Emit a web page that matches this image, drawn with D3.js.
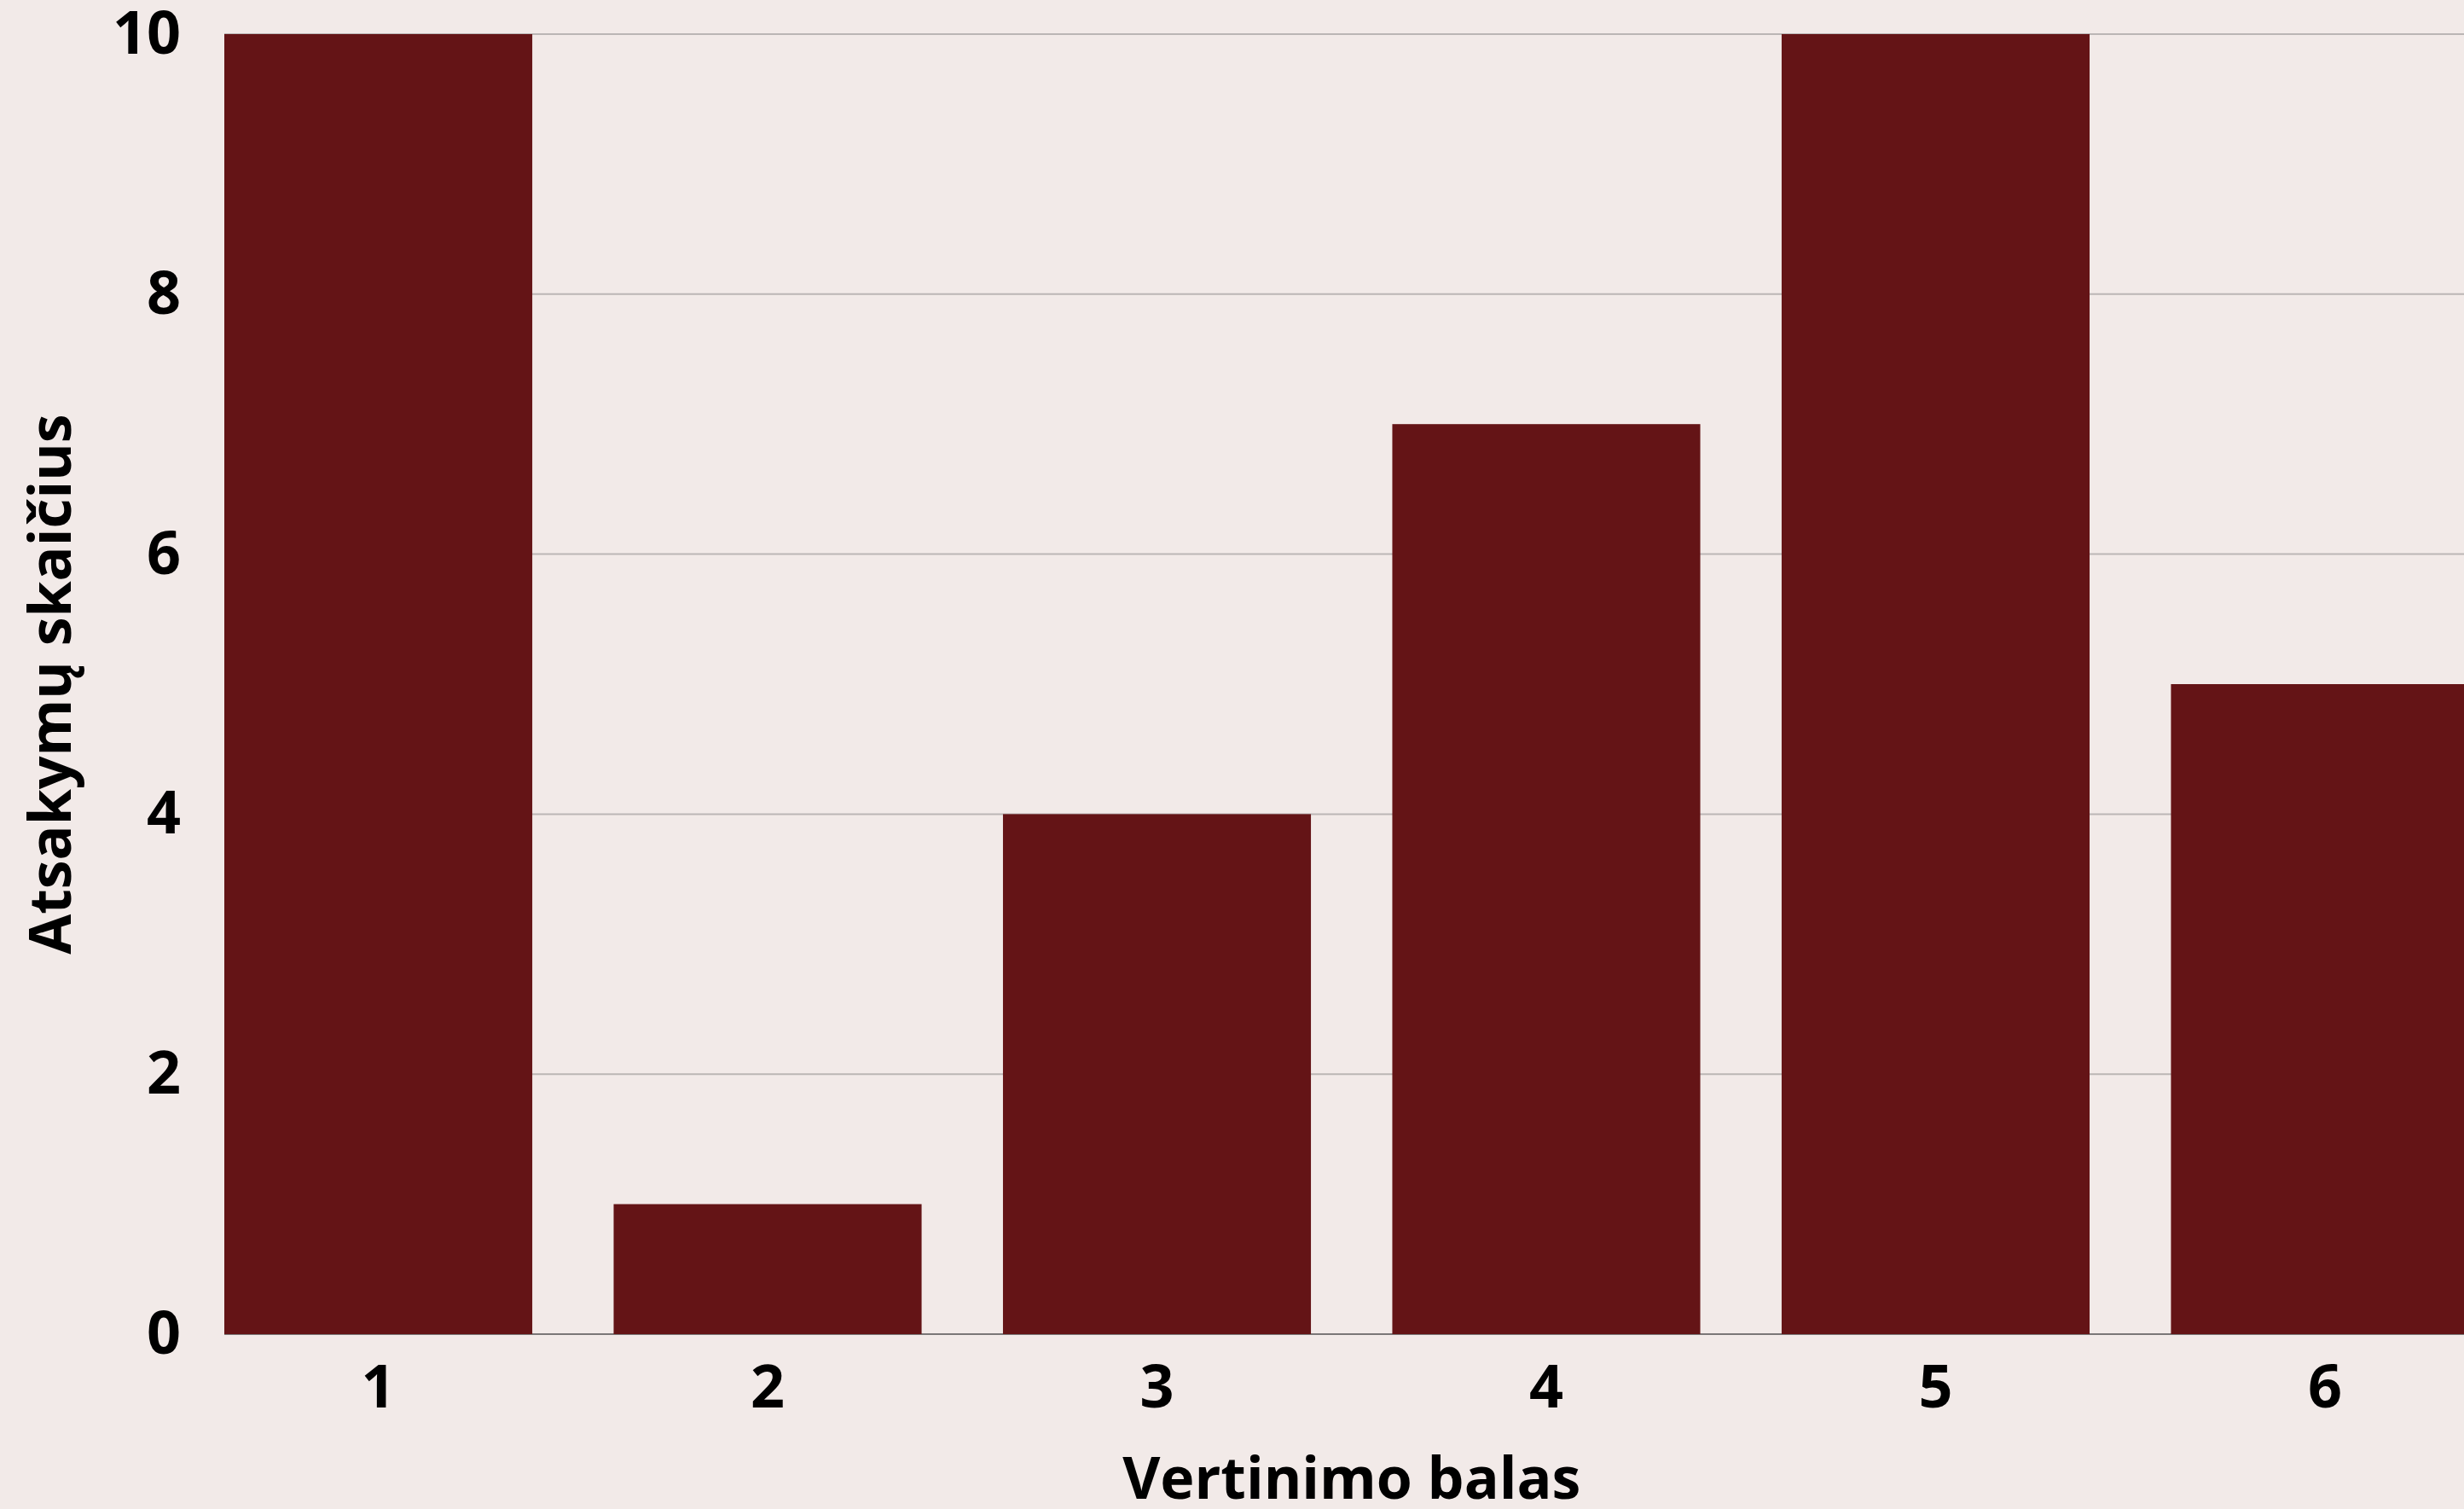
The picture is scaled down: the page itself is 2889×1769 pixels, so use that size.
<!DOCTYPE html>
<html>
<head>
<meta charset="utf-8">
<script src="https://cdn.jsdelivr.net/npm/d3@7"></script>
<style>
  html, body { margin: 0; padding: 0; background: #f2eae8; overflow: hidden; }
  svg { display: block; }
  text { font-family: "Open Sans", "Noto Sans", sans-serif; font-weight: 700; fill: #000; }
</style>
</head>
<body>
<script>
// Rating score categories and number of responses for each
const categories = ["1", "2", "3", "4", "5", "6"];
const counts = [10, 1, 4, 7, 10, 5];
const yTicks = [0, 2, 4, 6, 8, 10];
const xTitle = "Vertinimo balas";
const yTitle = "Atsakymų skaičius";

const W = 2889, H = 1769;
const plot = { left: 263, right: 2906.5, top: 40, bottom: 1564 };

const svg = d3.select("body").append("svg")
  .attr("width", W).attr("height", H);

svg.append("rect").attr("width", W).attr("height", H).attr("fill", "#f2eae8");

const x = d3.scaleBand()
  .domain(categories)
  .range([plot.left, plot.right])
  .paddingInner(0.209)
  .paddingOuter(0);

const y = d3.scaleLinear()
  .domain([0, 10])
  .range([plot.bottom, plot.top]);

// Horizontal gridlines
svg.append("g").selectAll("line")
  .data(yTicks.filter(d => d > 0))
  .join("line")
  .attr("x1", plot.left).attr("x2", W)
  .attr("y1", d => y(d)).attr("y2", d => y(d))
  .attr("stroke", "#bbb6b5").attr("stroke-width", 2);

// Zero baseline
svg.append("line")
  .attr("x1", plot.left).attr("x2", W)
  .attr("y1", y(0)).attr("y2", y(0))
  .attr("stroke", "#7a7777").attr("stroke-width", 2);

// Bars
svg.append("g").selectAll("rect")
  .data(categories.map((c, i) => ({ c, v: counts[i] })))
  .join("rect")
  .attr("x", d => x(d.c))
  .attr("width", x.bandwidth())
  .attr("y", d => y(d.v))
  .attr("height", d => y(0) - y(d.v))
  .attr("fill", "#641416");

// Y axis labels
const yAxis = svg.append("g")
  .attr("transform", `translate(${plot.left},0)`)
  .call(d3.axisLeft(y).tickValues(yTicks).tickSize(0).tickPadding(51));
yAxis.select(".domain").remove();
yAxis.selectAll("text")
  .style("font-size", "70px")
  .style("font-family", "'Open Sans', sans-serif")
  .style("font-weight", 700)
  .attr("fill", "#000");

// X axis labels
const xAxis = svg.append("g")
  .attr("transform", `translate(0,${plot.bottom})`)
  .call(d3.axisBottom(x).tickSize(0).tickPadding(36));
xAxis.select(".domain").remove();
xAxis.selectAll("text")
  .style("font-size", "70px")
  .style("font-family", "'Open Sans', sans-serif")
  .style("font-weight", 700)
  .attr("fill", "#000");

// Axis titles
svg.append("text")
  .attr("x", (plot.left + plot.right) / 2)
  .attr("y", 1757)
  .attr("text-anchor", "middle")
  .style("font-size", "68px")
  .text(xTitle);

svg.append("text")
  .attr("transform", `translate(83,${(plot.top + plot.bottom) / 2}) rotate(-90)`)
  .attr("text-anchor", "middle")
  .style("font-size", "68px")
  .text(yTitle);
</script>
</body>
</html>
